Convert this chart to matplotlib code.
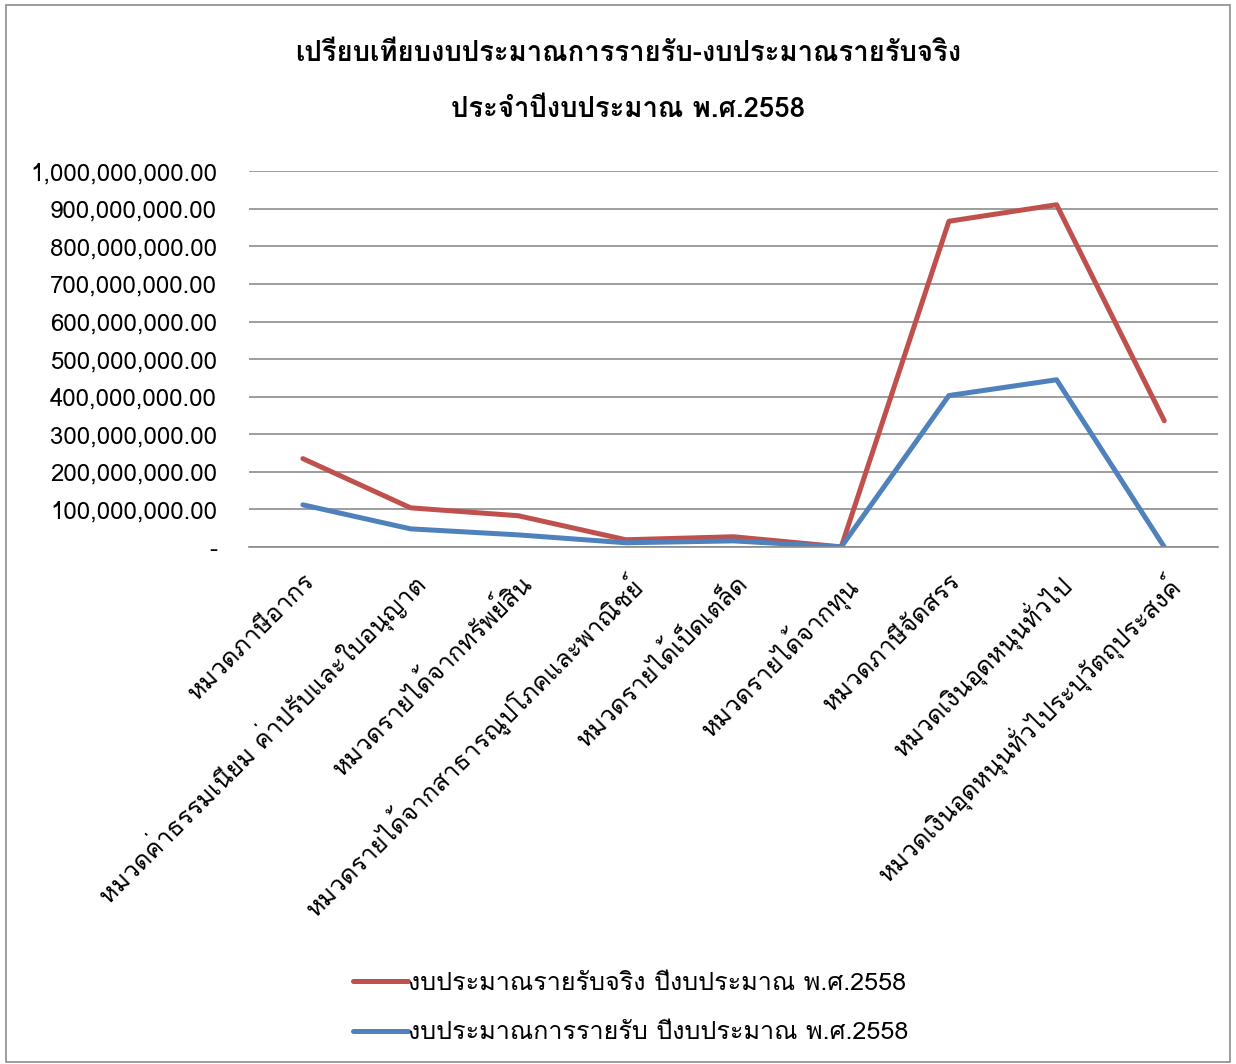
import matplotlib
matplotlib.use('Agg')
import matplotlib.pyplot as plt
from matplotlib import font_manager
from matplotlib import patheffects
from matplotlib.ticker import FuncFormatter
from matplotlib.patches import Rectangle
from matplotlib.ft2font import FT2Font

# find a font that can draw Thai (looped style first, like Tahoma)
def thai_font():
    preferred = ['Tahoma', 'Loma', 'Garuda', 'Noto Sans Thai Looped', 'Noto Serif Thai',
                 'Waree', 'Umpush', 'Kinnari', 'Norasi', 'Sarabun', 'Noto Sans Thai']
    found = {}
    for f in font_manager.fontManager.ttflist:
        try:
            cmap = FT2Font(f.fname).get_charmap()
        except Exception:
            continue
        if 0x0E01 in cmap and 0x0E32 in cmap:
            found.setdefault(f.name, []).append(f.weight)
    for name in preferred:
        if name in found:
            return name, found[name]
    if found:
        name = sorted(found)[0]
        return name, found[name]
    return None, []

th, weights = thai_font()
families = ([th] if th else []) + ['DejaVu Sans']
plt.rcParams['font.family'] = families
has_bold = any((w if isinstance(w, int) else 700 if w == 'bold' else 400) >= 600 for w in weights)

categories = [
    'หมวดภาษีอากร',
    'หมวดค่าธรรมเนียม ค่าปรับและใบอนุญาต',
    'หมวดรายได้จากทรัพย์สิน',
    'หมวดรายได้จากสาธารณูปโภคและพาณิชย์',
    'หมวดรายได้เบ็ดเตล็ด',
    'หมวดรายได้จากทุน',
    'หมวดภาษีจัดสรร',
    'หมวดเงินอุดหนุนทั่วไป',
    'หมวดเงินอุดหนุนทั่วไประบุวัตถุประสงค์',
]
actual = [235e6, 104e6, 83e6, 19e6, 27e6, 0, 867e6, 911e6, 336e6]
budget = [112e6, 48e6, 32e6, 11e6, 16e6, 0, 403e6, 445e6, 0]

title1 = 'เปรียบเทียบงบประมาณการรายรับ-งบประมาณรายรับจริง'
title2 = 'ประจำปีงบประมาณ พ.ศ.2558'
label_actual = 'งบประมาณรายรับจริง ปีงบประมาณ พ.ศ.2558'
label_budget = 'งบประมาณการรายรับ ปีงบประมาณ พ.ศ.2558'

fig = plt.figure(figsize=(12.36, 10.64), dpi=100)
fig.patches.append(Rectangle((0.005, 0.002), 0.99, 0.993, transform=fig.transFigure,
                             fill=False, edgecolor='#8c8c8c', linewidth=1.2))
ax = fig.add_axes([0.2015, 0.486, 0.784, 0.353])

x = list(range(len(categories)))
ax.plot(x, actual, color='#c0504d', linewidth=3.6, solid_capstyle='round', label=label_actual)
ax.plot(x, budget, color='#4f81bd', linewidth=3.6, solid_capstyle='round', label=label_budget)

ax.set_xlim(-0.5, len(categories) - 0.5)
ax.set_ylim(0, 1e9)
ax.set_yticks([i * 1e8 for i in range(11)])
ax.yaxis.set_major_formatter(FuncFormatter(lambda v, p: '-' if v == 0 else f'{v:,.2f}'))
ax.grid(axis='y', color='#8c8c8c', linewidth=1.2)
ax.set_axisbelow(True)
for s in ['top', 'right', 'left']:
    ax.spines[s].set_visible(False)
ax.spines['bottom'].set_color('#8c8c8c')
ax.spines['bottom'].set_linewidth(1.2)
ax.tick_params(axis='y', length=0, labelsize=17.3, pad=23)
ax.tick_params(axis='x', length=0, labelsize=18, pad=16)
ax.set_xticks(x)
ax.set_xticklabels(categories, rotation=45, ha='right', rotation_mode='anchor')

tkw = dict(ha='center', va='center', fontsize=19.8, fontweight='bold')
if not has_bold:
    tkw['path_effects'] = [patheffects.withStroke(linewidth=1.1, foreground='black')]
fig.text(0.508, 0.950, title1, **tkw)
fig.text(0.508, 0.897, title2, **tkw)

fig.legend(loc='center', bbox_to_anchor=(0.51, 0.0525), fontsize=18.1, frameon=False,
           handlelength=2.2, handletextpad=0.0, labelspacing=1.05)

fig.savefig('out.png', dpi=100)
